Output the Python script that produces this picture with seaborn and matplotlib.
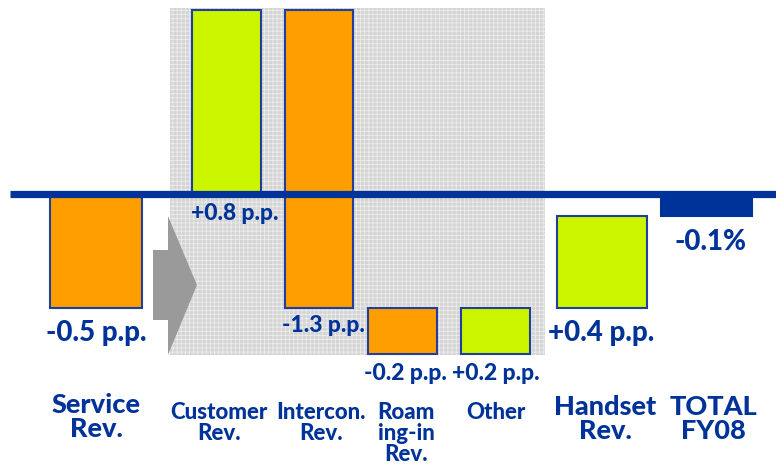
import numpy as np
import pandas as pd
import matplotlib
matplotlib.use("Agg")
import matplotlib.pyplot as plt
import seaborn as sns
from matplotlib.patches import Rectangle, Polygon

# ---------------- data ----------------
categories = ["Service\nRev.", "Customer\nRev.", "Intercon.\nRev.", "Roam\ning-in\nRev.",
              "Other", "Handset\nRev.", "TOTAL\nFY08"]
changes = [-0.5, 0.8, -1.3, -0.2, 0.2, 0.4, -0.1]
value_labels = ["-0.5 p.p.", "+0.8 p.p.", "-1.3 p.p.", "-0.2 p.p.", "+0.2 p.p.", "+0.4 p.p.", "-0.1%"]
kinds = ["service", "detail", "detail", "detail", "detail", "handset", "total"]

# ---------------- layout / style ----------------
sns.set_theme(style="white")
plt.rcParams["font.family"] = ["Lato", "DejaVu Sans"]
plt.rcParams["hatch.linewidth"] = 0.6
plt.rcParams["hatch.color"] = "#ececec"

NAVY = "#003399"
ORANGE = "#FF9E00"
GREEN = "#CCF500"
EDGE = "#1f3f9f"
WEIGHT = "black"

centers = [96, 226, 319, 402, 495, 602, 706]
widths = [92, 69, 68, 69, 69, 90, 91]
ZERO_PX, SCALE = 193.5, 229.0   # pixel row of zero line and pixels per p.p.
W, H = 776, 467

def vy(py):
    """pixel row -> data value"""
    return (ZERO_PX - py) / SCALE

fig = plt.figure(figsize=(W / 100, H / 100), dpi=100)
ax = fig.add_axes([0, 0, 1, 1])

# shaded breakdown area
ax.add_patch(Rectangle((170, vy(355)), 375, vy(8) - vy(355), facecolor="#d4d4d4",
                       edgecolor="#ececec", hatch="++++", linewidth=0, zorder=0))

# bottoms computed as waterfall
bottoms, run = [], 0.0
for k, c in zip(kinds, changes):
    if k == "service":
        bottoms.append(0.0)
    elif k in ("detail", "handset"):
        bottoms.append(run)
        run += c
    else:
        bottoms.append(0.0)
heights = list(changes)
heights[-1] = run  # total equals the running result

for i, (k, h) in enumerate(zip(kinds, heights)):
    if k == "total":
        col, ec = NAVY, NAVY
    else:
        col = GREEN if h > 0 else ORANGE
        ec = EDGE
    sns.barplot(x=[centers[i]], y=[h], native_scale=True, orient="x", width=widths[i],
                bottom=bottoms[i], color=col, saturation=1, edgecolor=ec, linewidth=1.5,
                ax=ax, zorder=2)

# grey arrow
arrow_px = [(153, 250), (168, 250), (168, 216), (197, 285), (168, 355), (168, 320), (153, 320)]
ax.add_patch(Polygon([(x, vy(y)) for x, y in arrow_px], closed=True, facecolor="#9a9a9a",
                     edgecolor="none", zorder=1))

# zero line
ax.plot([10, 776], [0, 0], color=NAVY, lw=5.2, solid_capstyle="butt", zorder=5)

# value labels
val_pos = [(96, 333), (235, 213), (323, 326), (405, 374), (496, 374), (601, 333), (710, 242)]
val_size = [20, 16.5, 16.5, 16.5, 16.5, 20, 20]
for lab, (x, y), s in zip(value_labels, val_pos, val_size):
    ax.text(x, vy(y), lab, ha="center", va="center", fontsize=s, fontweight=WEIGHT,
            color=NAVY, zorder=6)

# category labels
cat_pos = [(96, 393), (219, 402), (321, 402), (406, 402), (496, 402), (605, 395), (713, 395)]
cat_size = [19.5, 16, 16, 16, 16, 19.5, 19.5]
for lab, (x, y), s in zip(categories, cat_pos, cat_size):
    ax.text(x, vy(y), lab, ha="center", va="top", fontsize=s, fontweight=WEIGHT,
            color=NAVY, linespacing=1.0, zorder=6)

ax.set_xlim(0, W)
ax.set_ylim(vy(H), vy(0))
ax.set_axis_off()
fig.savefig("out.png", dpi=100)
